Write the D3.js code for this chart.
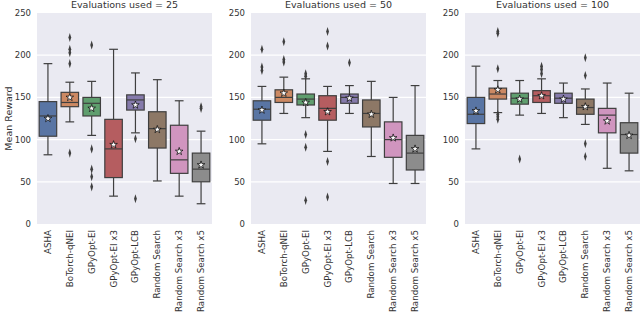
<!DOCTYPE html>
<html>
<head>
<meta charset="utf-8">
<script src="https://cdn.jsdelivr.net/npm/d3@7"></script>
<style>
  body { margin: 0; background: #fff; }
  text { font-family: "DejaVu Sans", sans-serif; fill: #333; }
</style>
</head>
<body>
<div id="chart"></div>
<script>
// chart data
var evals = [25, 50, 100];
var methods = ['ASHA', 'BoTorch-qNEI', 'GPyOpt-EI', 'GPyOpt-EI x3', 'GPyOpt-LCB',
               'Random Search', 'Random Search x3', 'Random Search x5'];
var colors = ['#5975a4', '#cc8963', '#5f9e6e', '#b55d60', '#857aab', '#8d7866', '#d095bf', '#8c8c8c'];
var yTicks = [0, 50, 100, 150, 200, 250];

// [whisker low, q1, median, q3, whisker high, mean]
var stats25 = [
    [82, 104, 128, 145, 190, 125],
    [121, 139, 144, 156, 168, 150],
    [105, 128, 143, 150, 169, 137],
    [33, 55, 89, 124, 207, 94],
    [108, 135, 147, 153, 179, 141],
    [51, 90, 113, 133, 171, 112],
    [33, 60, 76, 117, 146, 86],
    [24, 50, 65, 84, 110, 70]
];
var fliers25 = [
    [],
    [221, 207, 203, 190, 84],
    [212, 89, 65, 56, 44],
    [],
    [101, 30],
    [],
    [],
    [139, 137]
];

var stats50 = [
    [95, 123, 136, 146, 163, 135],
    [131, 144, 150, 159, 174, 155],
    [126, 141, 148, 154, 172, 144],
    [86, 123, 137, 152, 163, 133],
    [131, 143, 150, 154, 164, 149],
    [80, 115, 131, 147, 169, 130],
    [48, 79, 100, 121, 150, 102],
    [48, 64, 84, 105, 164, 89]
];
var fliers50 = [
    [207, 186, 182],
    [216, 195, 192],
    [178, 175, 106, 91, 28],
    [228, 211, 74, 32],
    [191],
    [],
    [],
    []
];

var stats100 = [
    [89, 119, 130, 150, 187, 134],
    [132, 148, 154, 161, 170, 159],
    [129, 142, 149, 155, 170, 148],
    [131, 144, 152, 158, 172, 152],
    [126, 143, 149, 155, 167, 148],
    [118, 130, 138, 148, 160, 139],
    [66, 108, 129, 137, 167, 122],
    [63, 84, 106, 120, 155, 105]
];
var fliers100 = [
    [],
    [228, 226, 184, 130, 127, 124],
    [77],
    [187, 183, 178],
    [],
    [197, 176, 95, 80],
    [],
    []
];

var panels = [
    {n: evals[0], stats: stats25, fliers: fliers25},
    {n: evals[1], stats: stats50, fliers: fliers50},
    {n: evals[2], stats: stats100, fliers: fliers100}
];

var width = 640, height = 313;
var plotTop = 13, plotBottom = 224;
var panelLeft = [37, 251, 465], panelW = 175;
var lineColor = '#3f3f3f';

var svg = d3.select('#chart').append('svg')
    .attr('width', width)
    .attr('height', height);

var y = d3.scaleLinear().domain([0, 250]).range([plotBottom, plotTop]);

svg.append('text')
    .attr('transform', 'translate(9,' + ((plotTop + plotBottom) / 2) + ') rotate(-90)')
    .attr('text-anchor', 'middle')
    .attr('dy', '0.35em')
    .style('font-size', '9.5px')
    .text('Mean Reward');

var star = d3.symbol().type(d3.symbolStar).size(18);
var diamond = d3.symbol().type(d3.symbolDiamond).size(14);

panels.forEach(function (p, pi) {
    var x = d3.scaleBand().domain(methods).range([0, panelW]).padding(0);
    var g = svg.append('g').attr('transform', 'translate(' + panelLeft[pi] + ',0)');

    g.append('rect')
        .attr('x', 0).attr('y', plotTop)
        .attr('width', panelW).attr('height', plotBottom - plotTop)
        .attr('fill', '#eaeaf2');

    g.selectAll('line.grid')
        .data(yTicks.slice(1, -1))
        .enter()
        .append('line')
        .attr('class', 'grid')
        .attr('x1', 0).attr('x2', panelW)
        .attr('y1', function (d) { return y(d); })
        .attr('y2', function (d) { return y(d); })
        .attr('stroke', '#fff')
        .attr('stroke-width', 1.2);

    // y tick labels
    g.selectAll('text.ytick')
        .data(yTicks)
        .enter()
        .append('text')
        .attr('class', 'ytick')
        .attr('x', -6)
        .attr('y', function (d) { return y(d); })
        .attr('dy', '0.35em')
        .attr('text-anchor', 'end')
        .style('font-size', '8.5px')
        .text(function (d) { return d; });

    // x tick labels
    g.selectAll('text.xtick')
        .data(methods)
        .enter()
        .append('text')
        .attr('class', 'xtick')
        .attr('transform', function (d) {
            return 'translate(' + (x(d) + x.bandwidth() / 2) + ',' + (plotBottom + 6) + ') rotate(-90)';
        })
        .attr('dy', '0.35em')
        .attr('text-anchor', 'end')
        .style('font-size', '8.7px')
        .text(function (d) { return d; });

    g.append('text')
        .attr('x', panelW / 2)
        .attr('y', 8)
        .attr('text-anchor', 'middle')
        .style('font-size', '9.5px')
        .text('Evaluations used = ' + p.n);

    var boxW = x.bandwidth() * 0.8;
    var boxes = g.selectAll('g.box')
        .data(p.stats)
        .enter()
        .append('g')
        .attr('class', 'box')
        .attr('transform', function (d, i) {
            return 'translate(' + (x(methods[i]) + x.bandwidth() / 2) + ',0)';
        });

    // whiskers
    boxes.append('line')
        .attr('x1', 0).attr('x2', 0)
        .attr('y1', function (d) { return y(d[0]); })
        .attr('y2', function (d) { return y(d[1]); })
        .attr('stroke', lineColor).attr('stroke-width', 1.2);
    boxes.append('line')
        .attr('x1', 0).attr('x2', 0)
        .attr('y1', function (d) { return y(d[3]); })
        .attr('y2', function (d) { return y(d[4]); })
        .attr('stroke', lineColor).attr('stroke-width', 1.2);
    // caps
    [0, 4].forEach(function (k) {
        boxes.append('line')
            .attr('x1', -boxW / 4).attr('x2', boxW / 4)
            .attr('y1', function (d) { return y(d[k]); })
            .attr('y2', function (d) { return y(d[k]); })
            .attr('stroke', lineColor).attr('stroke-width', 1.2);
    });

    boxes.append('rect')
        .attr('x', -boxW / 2)
        .attr('width', boxW)
        .attr('y', function (d) { return y(d[3]); })
        .attr('height', function (d) { return y(d[1]) - y(d[3]); })
        .attr('fill', function (d, i) { return colors[i]; })
        .attr('stroke', lineColor)
        .attr('stroke-width', 1.2);

    boxes.append('line')
        .attr('x1', -boxW / 2).attr('x2', boxW / 2)
        .attr('y1', function (d) { return y(d[2]); })
        .attr('y2', function (d) { return y(d[2]); })
        .attr('stroke', lineColor).attr('stroke-width', 1.2);

    // outliers
    boxes.each(function (d, i) {
        d3.select(this).selectAll('path.flier')
            .data(p.fliers[i])
            .enter()
            .append('path')
            .attr('class', 'flier')
            .attr('d', diamond)
            .attr('transform', function (v) { return 'translate(0,' + y(v) + ') scale(0.7,1.3)'; })
            .attr('fill', lineColor);
    });

    // mean markers
    boxes.append('path')
        .attr('d', star)
        .attr('transform', function (d) { return 'translate(0,' + y(d[5]) + ')'; })
        .attr('fill', '#fff')
        .attr('stroke', '#000')
        .attr('stroke-width', 0.7);
});
</script>
</body>
</html>
